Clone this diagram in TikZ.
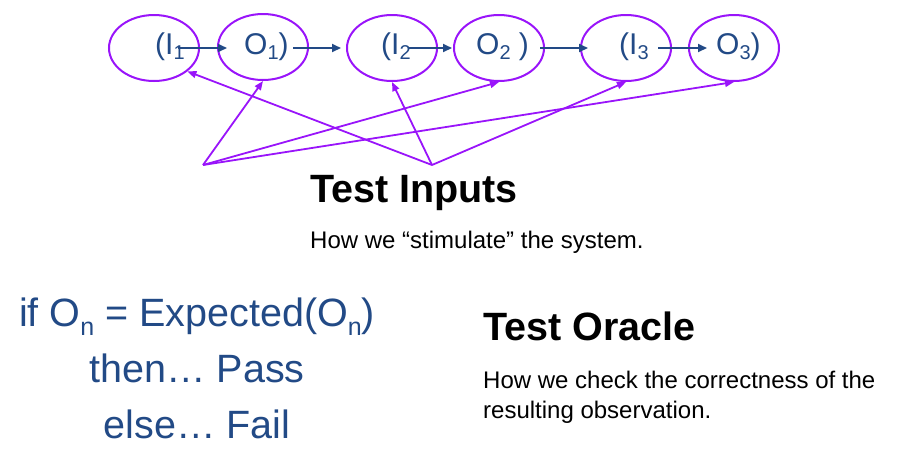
\documentclass[tikz,border=0pt]{standalone}
\usepackage{fontspec}
\setmainfont{Liberation Sans}
\usetikzlibrary{shapes.geometric,arrows.meta}
\definecolor{ovalpurple}{RGB}{153,20,250}
\definecolor{textblue}{RGB}{34,74,134}
\newcommand{\lowsub}[3]{\raisebox{-#2pt}{\fontsize{#1}{#1}\selectfont #3}}
\tikzset{
  oval/.style={ellipse, draw=ovalpurple, line width=2pt, minimum width=90pt, minimum height=66pt, inner sep=0pt},
  seqtext/.style={anchor=base west, inner sep=0pt, text=textblue, font=\fontsize{30}{36}\selectfont},
  flow/.style={draw=textblue, line width=2pt, -{Triangle[length=9pt,width=8pt]}},
  stim/.style={draw=ovalpurple, line width=1.8pt, -{Triangle[length=9pt,width=7pt]}},
  heading/.style={anchor=base west, inner sep=0pt, font=\fontsize{39.5}{46}\selectfont\bfseries},
  body/.style={anchor=base west, inner sep=0pt, font=\fontsize{24}{30}\selectfont},
  logic/.style={anchor=base, inner sep=0pt, text=textblue, font=\fontsize{39.5}{46}\selectfont}
}
\begin{document}
\begin{tikzpicture}[x=1pt,y=-1pt]
\useasboundingbox (0,0) rectangle (907,448);
% ovals
\node[oval] (e1) at (154,48) {};
\node[oval] (e2) at (263,47) {};
\node[oval] (e3) at (392,48) {};
\node[oval] (e4) at (499,48) {};
\node[oval] (e5) at (626,48) {};
\node[oval] (e6) at (734,48) {};
% sequence texts
\node[seqtext] (t1) at (155,54) {(I\lowsub{20}{5}{1}};
\node[seqtext] (t2) at (244,54) {O\lowsub{20}{5}{1})};
\node[seqtext] (t3) at (381,54) {(I\lowsub{20}{5}{2}};
\node[seqtext] (t4) at (476,54) {O\lowsub{20}{5}{2} )};
\node[seqtext] (t5) at (619,54) {(I\lowsub{20}{5}{3}};
\node[seqtext] (t6) at (716,54) {O\lowsub{20}{5}{3})};
% sequence arrows
\draw[flow] ([shift={(-6.5,-6)}]t1.base east) -- ([shift={(-17,-6)}]t2.base west);
\draw[flow] ([shift={(4.5,-6)}]t2.base east) -- ([shift={(-40,-6)}]t3.base west);
\draw[flow] ([shift={(-2.5,-6)}]t3.base east) -- ([shift={(-24,-6)}]t4.base west);
\draw[flow] ([shift={(11,-6)}]t4.base east) -- ([shift={(-31,-6)}]t5.base west);
\draw[flow] ([shift={(9.5,-6)}]t5.base east) -- ([shift={(-9,-6)}]t6.base west);
% stimulus arrows
\coordinate (s1) at (203,165);
\coordinate (s2) at (432,165);
\draw[stim] (s1) -- (e2.south);
\draw[stim] (s1) -- (e4.south);
\draw[stim] (s1) -- (e6.south);
\draw[stim] (s2) -- (e1.-35);
\draw[stim] (s2) -- (e3.south);
\draw[stim] (s2) -- (e5.south);
% test inputs
\node[heading] (ti) at (310,202) {Test Inputs};
\node[body] (tid) at (310,248) {How we “stimulate” the system.};
% test oracle
\node[heading] (to) at (483,340) {Test Oracle};
\node[body] (tod1) at (483,388) {How we check the correctness of the};
\node[body] (tod2) at (483,418) {resulting observation.};
% logic
\node[logic] (l1) at (197,326) {if O\lowsub{25}{9}{n} = Expected(O\lowsub{25}{9}{n})};
\node[logic] (l2) at (197,382) {then… Pass};
\node[logic] (l3) at (197,438) {else… Fail};
\end{tikzpicture}
\end{document}
